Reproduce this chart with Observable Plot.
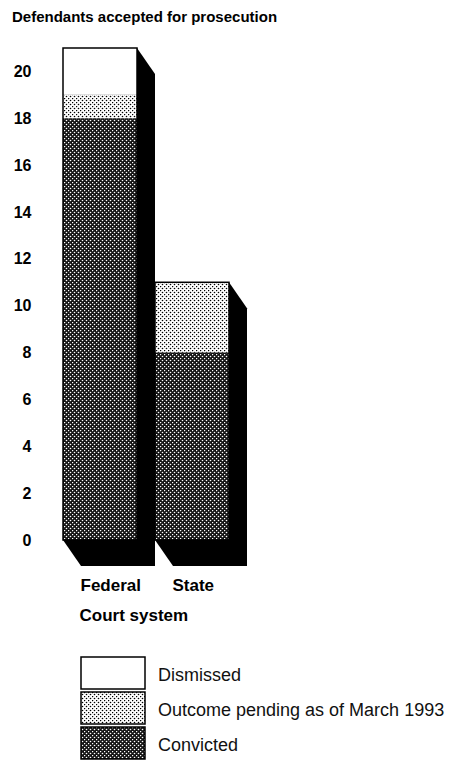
<!DOCTYPE html>
<html><head><meta charset="utf-8">
<script src="https://cdn.jsdelivr.net/npm/d3@7"></script>
<script src="https://cdn.jsdelivr.net/npm/@observablehq/plot@0.6"></script>
<style>
body{margin:0;background:#fff;font-family:"Liberation Sans",Arial,sans-serif;}
#wrap{position:relative;width:464px;height:764px;overflow:hidden;}
#title{position:absolute;left:12px;top:8px;font-weight:bold;font-size:15px;line-height:18px;color:#000;white-space:nowrap;}
#chart{position:absolute;left:0;top:30px;}
#legend{position:absolute;left:0;top:650px;}
</style></head><body>
<svg width="0" height="0" style="position:absolute"><defs>
<pattern id="darkDots" width="4" height="4" patternUnits="userSpaceOnUse">
<rect width="4" height="4" fill="#151515"/>
<circle cx="0.5" cy="0.5" r="0.8" fill="#fff"/>
<circle cx="2.5" cy="2.5" r="0.8" fill="#fff"/>
</pattern>
<pattern id="lightDots" width="4" height="4" patternUnits="userSpaceOnUse">
<rect width="4" height="4" fill="#fff"/>
<circle cx="0.5" cy="0.5" r="0.8" fill="#000"/>
<circle cx="2.5" cy="2.5" r="0.8" fill="#000"/>
</pattern>
</defs></svg>
<div id="wrap">
<div id="title">Defendants accepted for prosecution</div>
<div id="chart"></div>
<div id="legend"></div>
</div>
<script>
const courts = ["Federal", "State"];
const outcomes = ["Convicted", "Outcome pending as of March 1993", "Dismissed"];
const convicted = [18, 8];
const pending = [1, 3];
const dismissed = [2, 0];
const yTicks = [0, 2, 4, 6, 8, 10, 12, 14, 16, 18, 20];
const legendOrder = ["Dismissed", "Outcome pending as of March 1993", "Convicted"];
const fills = ["url(#darkDots)", "url(#lightDots)", "#ffffff"];
const xTitle = "Court system";

const series = [convicted, pending, dismissed];
const rows = [];
courts.forEach((c, i) => series.forEach((arr, j) => rows.push({court: c, outcome: outcomes[j], value: arr[i]})));
const totals = courts.map((c, i) => ({court: c, total: convicted[i] + pending[i] + dismissed[i]}));

const DX = 18, DY = 26;

const plot = Plot.plot({
  width: 464, height: 610,
  marginTop: 18, marginBottom: 100, marginLeft: 63, marginRight: 235.4,
  x: {domain: courts, paddingInner: 0.2, paddingOuter: 0, align: 0},
  y: {domain: [0, 21]},
  color: {domain: outcomes, range: fills},
  style: {fontFamily: "Liberation Sans, Arial, sans-serif", background: "transparent", overflow: "visible", color: "#000"},
  marks: [
    Plot.axisY({ticks: yTicks, tickSize: 0, tickPadding: 32, fontSize: 16, fontWeight: "bold", label: null}),
    Plot.axisX({tickSize: 0, tickPadding: 38, textAnchor: "start", dx: -20, fontSize: 17, fontWeight: "bold", label: null}),
    Plot.barY(rows, {x: "court", y: "value", fill: "outcome", inset: 0}),
    Plot.barY(totals, {x: "court", y: "total", fill: "none", stroke: "#000", strokeWidth: 1.5, inset: 0}),
    Plot.text([xTitle], {text: d => d, frameAnchor: "bottom-left", dx: 16, dy: 80, textAnchor: "start", fontSize: 17, fontWeight: "bold", fill: "#000"})
  ]
});
document.getElementById("chart").appendChild(plot);

// 3D extrusion drawn from the plot's own scales
const xs = plot.scale("x"), ys = plot.scale("y");
const firstBar = plot.querySelector('g[aria-label="bar"]');
const g = document.createElementNS("http://www.w3.org/2000/svg", "g");
plot.insertBefore(g, firstBar);
d3.select(g).selectAll("polygon").data(totals).join("polygon")
  .attr("fill", "#000")
  .attr("points", d => {
    const x0 = xs.apply(d.court), x1 = x0 + xs.bandwidth;
    const yT = ys.apply(d.total), y0 = ys.apply(0);
    return [[x0, yT], [x1, yT], [x1 + DX, yT + DY], [x1 + DX, y0 + DY], [x0 + DX, y0 + DY], [x0, y0]]
      .map(p => p.join(",")).join(" ");
  });

// legend
const lsvg = d3.select("#legend").append("svg").attr("width", 464).attr("height", 114);
const fillOf = o => fills[outcomes.indexOf(o)];
const items = lsvg.selectAll("g").data(legendOrder).join("g")
  .attr("transform", (d, i) => `translate(0,${7 + i * 35})`);
items.append("rect").attr("x", 81).attr("y", 0).attr("width", 64).attr("height", 32)
  .attr("fill", d => fillOf(d)).attr("stroke", "#000").attr("stroke-width", 1.5);
items.append("text").attr("x", 158).attr("y", 18).attr("dominant-baseline", "central")
  .attr("font-family", "Liberation Sans, Arial, sans-serif").attr("font-size", 18).attr("fill", "#111")
  .text(d => d);
</script>
</body></html>
